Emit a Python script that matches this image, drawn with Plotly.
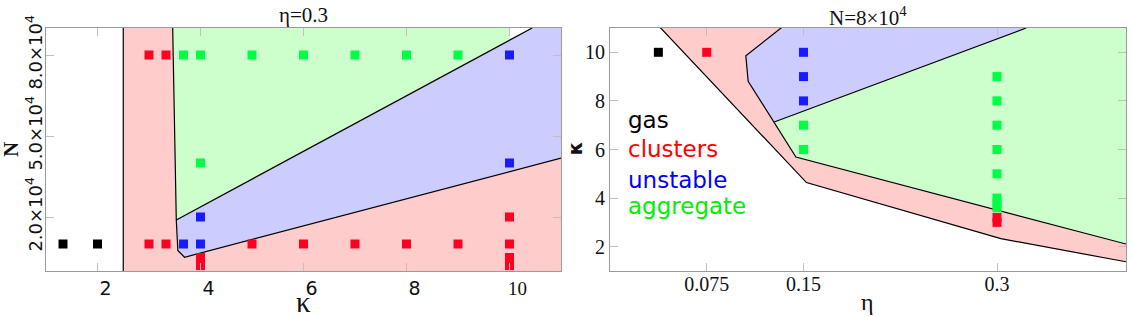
import plotly.graph_objects as go

W, H = 1132, 317
SERIF = "Liberation Serif"
SANS = "DejaVu Sans"

# ---------------- colours ----------------
C_RED, C_GREEN, C_BLUE, C_BLACK = "#ff0022", "#00ff44", "#1a1aff", "#000000"
F_RED, F_GREEN, F_BLUE = "#ffcccc", "#ccffcc", "#ccccff"

# ---------------- left panel (eta = 0.3): kappa vs N ----------------
gas_k = [1.33, 2]
gas_N = [1e4, 1e4]
clu_k = [3.0, 3.33, 3.0, 3.33, 5, 6, 7, 8, 9, 10, 10, 4, 4, 4, 4, 10, 10, 10, 10]
clu_N = [8e4, 8e4, 1e4, 1e4, 1e4, 1e4, 1e4, 1e4, 1e4, 1e4, 2e4,
         0.5e4, 0.4e4, 0.3e4, 0.2e4, 0.5e4, 0.4e4, 0.3e4, 0.2e4]
uns_k = [10, 10, 4, 3.67, 4]
uns_N = [8e4, 4e4, 2e4, 1e4, 1e4]
agg_k = [3.67, 4, 5, 6, 7, 8, 9, 4]
agg_N = [8e4, 8e4, 8e4, 8e4, 8e4, 8e4, 8e4, 4e4]

# phase boundaries (kappa, N)
L_gas_line_k = [2.5, 2.5]
L_gas_line_N = [0, 9e4]
L_b1_k = [3.46, 3.53, 3.56, 3.69, 11]
L_b1_N = [9e4, 1.89e4, 0.76e4, 0.51e4, 4.18e4]
L_b2_k = [3.53, 10.44]
L_b2_N = [1.89e4, 9e4]

L_red_k = [2.5, 2.5, 3.46, 3.53, 3.56, 3.69, 11, 11]
L_red_N = [0, 9e4, 9e4, 1.89e4, 0.76e4, 0.51e4, 4.18e4, 0]
L_green_k = [3.46, 10, 10, 3.53]
L_green_N = [9e4, 9e4, 8.55e4, 1.89e4]
L_blue_k = [3.53, 10.44, 11, 11, 3.69, 3.56]
L_blue_N = [1.89e4, 9e4, 9e4, 4.18e4, 0.51e4, 0.76e4]

L_xticks = [2, 4, 6, 8, 10]
L_xticktext = ["2", "4", "6", "8", "<span style='font-family:Liberation Serif'>10</span>"]
L_yticks = [2e4, 5e4, 8e4]
L_yticktext = ["2.0×10<sup>4</sup>", "5.0×10<sup>4</sup>", "8.0×10<sup>4</sup>"]

# ---------------- right panel (N = 8e4): eta vs kappa ----------------
r_gas_e = [0.0375]
r_gas_k = [10]
r_clu_e = [0.075, 0.3, 0.3]
r_clu_k = [10, 3.0, 3.2]
r_uns_e = [0.15, 0.15, 0.15]
r_uns_k = [10, 9, 8]
r_agg_e = [0.15, 0.15, 0.3, 0.3, 0.3, 0.3, 0.3, 0.3, 0.3, 0.3]
r_agg_k = [7, 6, 9, 8, 7, 6, 5, 4.0, 3.8, 3.6]

R_gas_line_e = [0.0375, 0.1523, 0.303, 0.4]
R_gas_line_k = [11.1, 4.64, 2.33, 1.38]
R_clu_line_e = [0.135, 0.1053, 0.1071, 0.1273, 0.1441, 0.4]
R_clu_line_k = [11.1, 9.86, 8.81, 7.13, 5.69, 2.11]
R_ug_line_e = [0.1273, 0.3226]
R_ug_line_k = [7.13, 11.0]

R_red_e = R_gas_line_e + R_clu_line_e[::-1]
R_red_k = R_gas_line_k + R_clu_line_k[::-1]
R_blue_e = R_clu_line_e[:4] + [0.3226, 0.3277]
R_blue_k = R_clu_line_k[:4] + [11.0, 11.1]
R_green_e = [0.1273, 0.1441, 0.4, 0.4, 0.3277, 0.3226]
R_green_k = [7.13, 5.69, 2.11, 11.1, 11.1, 11.0]

R_xticks = [0.075, 0.15, 0.3]
R_xticktext = ["0.075", "0.15", "0.3"]
R_yticks = [2, 4, 6, 8, 10]

legend_labels = ["gas", "clusters", "unstable", "aggregate"]
legend_colors = ["#000000", "#ff0000", "#0000ff", "#00f000"]

# ---------------- figure ----------------
fig = go.Figure()


def fill(x, y, color, xa, ya):
    fig.add_trace(go.Scatter(x=x, y=y, fill="toself", fillcolor=color, mode="none",
                             xaxis=xa, yaxis=ya, hoverinfo="skip", showlegend=False))


def line(x, y, xa, ya):
    fig.add_trace(go.Scatter(x=x, y=y, mode="lines", line=dict(color="black", width=1.2),
                             xaxis=xa, yaxis=ya, hoverinfo="skip", showlegend=False))


def pts(x, y, color, xa, ya):
    fig.add_trace(go.Scatter(x=x, y=y, mode="markers", xaxis=xa, yaxis=ya, showlegend=False,
                             marker=dict(symbol="square", size=9, color=color,
                                         line=dict(width=0))))


# left
fill(L_red_k, L_red_N, F_RED, "x", "y")
fill(L_green_k, L_green_N, F_GREEN, "x", "y")
fill(L_blue_k, L_blue_N, F_BLUE, "x", "y")
line(L_gas_line_k, L_gas_line_N, "x", "y")
line(L_b1_k, L_b1_N, "x", "y")
line(L_b2_k, L_b2_N, "x", "y")
pts(gas_k, gas_N, C_BLACK, "x", "y")
pts(clu_k, clu_N, C_RED, "x", "y")
pts(uns_k, uns_N, C_BLUE, "x", "y")
pts(agg_k, agg_N, C_GREEN, "x", "y")

# right
fill(R_red_e, R_red_k, F_RED, "x2", "y2")
fill(R_blue_e, R_blue_k, F_BLUE, "x2", "y2")
fill(R_green_e, R_green_k, F_GREEN, "x2", "y2")
line(R_gas_line_e, R_gas_line_k, "x2", "y2")
line(R_clu_line_e, R_clu_line_k, "x2", "y2")
line(R_ug_line_e, R_ug_line_k, "x2", "y2")
pts(r_gas_e, r_gas_k, C_BLACK, "x2", "y2")
pts(r_clu_e, r_clu_k, C_RED, "x2", "y2")
pts(r_uns_e, r_uns_k, C_BLUE, "x2", "y2")
pts(r_agg_e, r_agg_k, C_GREEN, "x2", "y2")


def px(x):
    return x / W


def py(y):
    return 1 - y / H


axis_common = dict(showline=True, linecolor="#9a9a9a", linewidth=1, mirror="ticks",
                   ticks="inside", ticklen=8, tickcolor="#c0c0c0", tickwidth=1,
                   showgrid=False, zeroline=False, fixedrange=True, automargin=False)

ydom = [py(271), py(28)]

fig.update_layout(
    width=W, height=H, margin=dict(l=0, r=0, t=0, b=0, autoexpand=False),
    paper_bgcolor="white", plot_bgcolor="white", showlegend=False,
    xaxis=dict(domain=[px(46), px(561)], range=[1, 11], tickvals=L_xticks, ticktext=L_xticktext,
               tickfont=dict(family=SANS, size=19, color="#111"), ticklabelshift=8,
               anchor="y", **axis_common),
    yaxis=dict(domain=ydom, range=[0, 9e4], tickvals=L_yticks, ticktext=L_yticktext,
               tickangle=-90, tickfont=dict(family=SANS, size=18, color="#111"),
               ticklabelstandoff=-4, anchor="x", **axis_common),
    xaxis2=dict(domain=[px(610), px(1126)], range=[0, 0.4], tickvals=R_xticks, ticktext=R_xticktext,
                tickfont=dict(family=SERIF, size=20, color="#111"), ticklabelstandoff=-5,
                anchor="y2", **axis_common),
    yaxis2=dict(domain=ydom, range=[1, 11], tickvals=R_yticks,
                tickfont=dict(family=SERIF, size=20, color="#111"), anchor="x2", **axis_common),
)

ann = []


def text(x, y, s, font, angle=0, xanchor="center"):
    ann.append(dict(x=px(x), y=py(y), xref="paper", yref="paper", text=s, showarrow=False,
                    font=font, textangle=angle, xanchor=xanchor, yanchor="middle", borderpad=0))


text(303.5, 15, "η=0.3", dict(family=SERIF, size=21, color="#111"))
text(868, 16, "N=8×10<sup>4</sup>", dict(family=SERIF, size=21, color="#111"))
text(303, 302, "κ", dict(family=SERIF, size=29, color="#111"))
text(11, 150, "<b>N</b>", dict(family=SERIF, size=21, color="#111"), angle=-90)
text(867, 302, "η", dict(family=SERIF, size=24, color="#111"))
text(574, 148.5, "<b>κ</b>", dict(family=SANS, size=20, color="#111"), angle=-90)

leg_y = [120, 148.5, 179.5, 205.5]
for lab, col, yy in zip(legend_labels, legend_colors, leg_y):
    text(627, yy, lab, dict(family=SANS, size=23, color=col), xanchor="left")

fig.update_layout(annotations=ann)
fig.write_html("out.html", config={"displayModeBar": False},
               post_script="document.body.style.margin='0px';document.body.style.overflow='hidden';")
